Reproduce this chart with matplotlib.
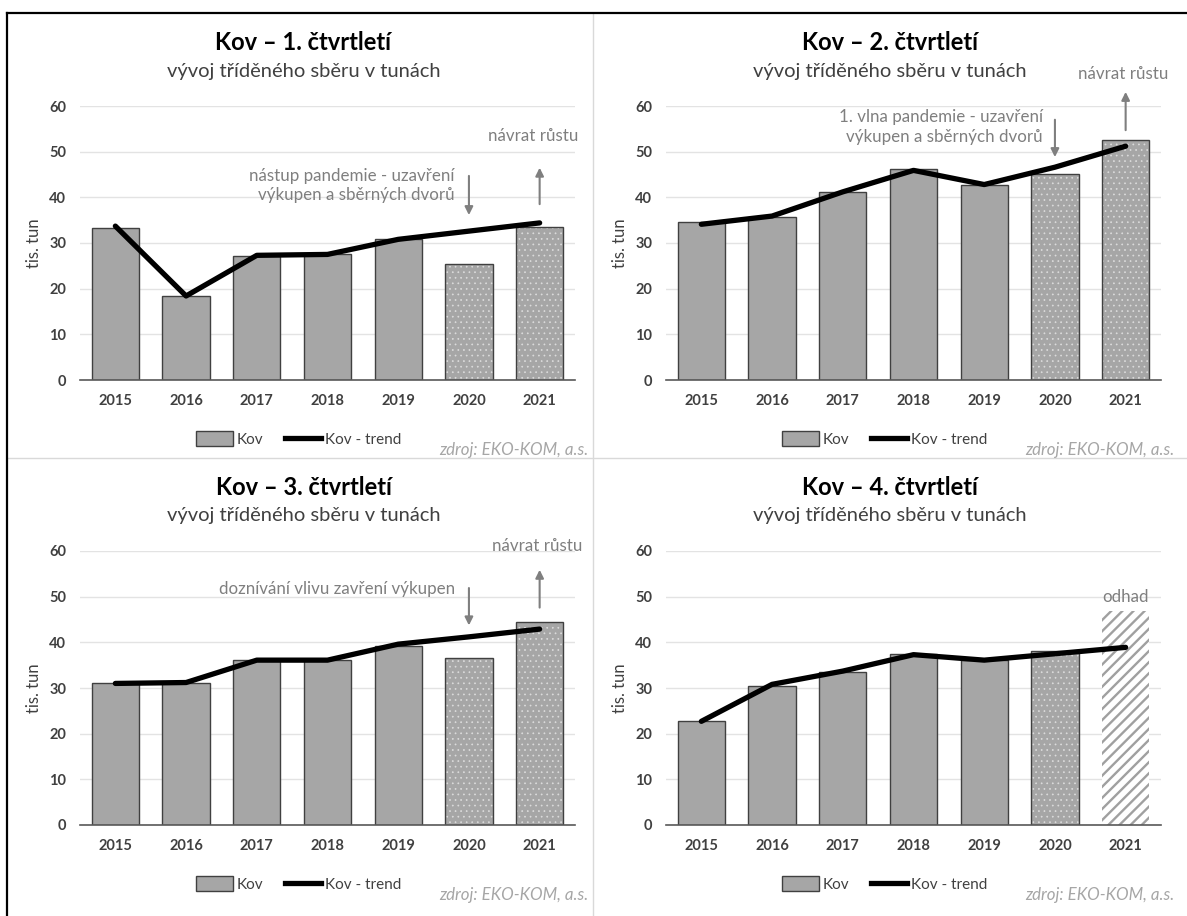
import matplotlib.pyplot as plt
from matplotlib.lines import Line2D
from matplotlib.patches import Patch

plt.rcParams['font.family'] = ['Lato', 'DejaVu Sans']

years = ['2015', '2016', '2017', '2018', '2019', '2020', '2021']

q1_kov = [33.3, 18.4, 27.2, 27.7, 30.8, 25.3, 33.5]
q1_trend = [33.7, 18.4, 27.3, 27.5, 30.8, 32.6, 34.4]
q2_kov = [34.5, 35.6, 41.1, 46.1, 42.8, 45.2, 52.5]
q2_trend = [34.1, 35.9, 41.2, 45.9, 42.8, 46.6, 51.2]
q3_kov = [31.1, 31.1, 36.2, 36.2, 39.3, 36.6, 44.5]
q3_trend = [31.0, 31.2, 36.1, 36.1, 39.6, 41.2, 42.9]
q4_kov = [22.7, 30.5, 33.4, 37.4, 36.2, 38.0, 46.9]
q4_trend = [22.7, 30.8, 33.7, 37.3, 36.1, 37.5, 38.9]

# bar fill kind per year: s = solid, d = dotted, h = hatched (estimate)
q123_style = ['s', 's', 's', 's', 's', 'd', 'd']
q4_style = ['s', 's', 's', 's', 's', 'd', 'h']

titles = ['Kov – 1. čtvrtletí', 'Kov – 2. čtvrtletí', 'Kov – 3. čtvrtletí', 'Kov – 4. čtvrtletí']
subtitle = 'vývoj tříděného sběru v tunách'

W, H = 1187, 916
fig = plt.figure(figsize=(W / 100, H / 100), dpi=100)

GRAY = '#a6a6a6'
EDGE = '#404040'
TXT = '#404040'
NOTE = '#7f7f7f'


def px_axes(left, top, right, bottom):
    return fig.add_axes([left / W, 1 - bottom / H, (right - left) / W, (bottom - top) / H])


def panel(ox, oy, title, kov, trend, style):
    ax = px_axes(ox + 73, oy + 93, ox + 568, oy + 367)
    x = list(range(len(years)))
    for i, (v, st) in enumerate(zip(kov, style)):
        if st == 'h':
            with plt.rc_context({'hatch.linewidth': 1.7}):
                ax.bar(i, v, width=0.67, facecolor='white', edgecolor='#a0a0a0',
                       hatch='///', linewidth=0, zorder=2)
        else:
            ax.bar(i, v, width=0.67, color=GRAY, linewidth=0, zorder=2)
            if st == 'd':
                with plt.rc_context({'hatch.linewidth': 0.5}):
                    ax.bar(i, v, width=0.67, facecolor='none', edgecolor='#dcdcdc',
                           hatch='...', linewidth=0, zorder=2)
            ax.bar(i, v, width=0.67, facecolor='none', edgecolor=EDGE, linewidth=1, zorder=2)
    ax.plot(x, trend, color='black', linewidth=3.8, solid_capstyle='round', zorder=3)

    ax.set_ylim(0, 60)
    ax.set_xlim(-0.5, len(years) - 0.5)
    ax.set_yticks(range(0, 61, 10))
    ax.set_xticks(x)
    ax.set_xticklabels(years)
    ax.grid(axis='y', color='#e3e3e3', linewidth=1, zorder=0)
    ax.set_axisbelow(True)
    for s in ['top', 'right', 'left']:
        ax.spines[s].set_visible(False)
    ax.spines['bottom'].set_color('#595959')
    ax.spines['bottom'].set_linewidth(1.2)
    ax.tick_params(length=0, labelsize=10.5, labelcolor=TXT, pad=10)
    for lab in ax.get_xticklabels() + ax.get_yticklabels():
        lab.set_fontweight('bold')
    ax.set_ylabel('tis. tun', fontsize=12, color=TXT, labelpad=5)

    cx = (ox + ox + 593) / 2 / W
    fig.text(cx, 1 - (oy + 29) / H, title, ha='center', va='center',
             fontsize=17, fontweight='bold', color='black')
    fig.text(cx, 1 - (oy + 58) / H, subtitle, ha='center', va='center',
             fontsize=14.5, color=TXT)

    handles = [Patch(facecolor=GRAY, edgecolor=EDGE, linewidth=1),
               Line2D([0], [0], color='black', linewidth=3.8)]
    ax.legend(handles, ['Kov', 'Kov - trend'], loc='center', ncol=2, frameon=False,
              bbox_to_anchor=((ox + 292) / W, 1 - (oy + 426) / H),
              bbox_transform=fig.transFigure, fontsize=11, handlelength=2.4,
              handleheight=1.1, handletextpad=0.25, columnspacing=1.4, labelcolor=TXT)
    fig.text((ox + 581) / W, 1 - (oy + 437) / H, 'zdroj: EKO-KOM, a.s.', ha='right',
             va='center', fontsize=12.2, style='italic', color='#a6a6a6')
    return ax


def arrow(ax, xi, y0, y1):
    ax.annotate('', xy=(xi, y1), xytext=(xi, y0), annotation_clip=False,
                arrowprops=dict(arrowstyle='-|>', color=NOTE, lw=1.5, mutation_scale=12))


def note(ax, xi, y, s, ha='right'):
    ax.text(xi, y, s, ha=ha, va='center', fontsize=12.2, color=NOTE,
            linespacing=1.3, clip_on=False)


ax1 = panel(7, 13, titles[0], q1_kov, q1_trend, q123_style)
note(ax1, 4.8, 42.6, 'nástup pandemie - uzavření\nvýkupen a sběrných dvorů')
arrow(ax1, 5, 45.3, 35.5)
arrow(ax1, 6, 37.9, 47.1)
note(ax1, 6.55, 53.4, 'návrat růstu')

ax2 = panel(593, 13, titles[1], q2_kov, q2_trend, q123_style)
note(ax2, 4.83, 55.4, '1. vlna pandemie - uzavření\nvýkupen a sběrných dvorů')
arrow(ax2, 5, 57.6, 48.2)
arrow(ax2, 6, 54.1, 63.7)
note(ax2, 6.6, 67.0, 'návrat růstu')

ax3 = panel(7, 458, titles[2], q3_kov, q3_trend, q123_style)
note(ax3, 4.8, 51.7, 'doznívání vlivu zavření výkupen')
arrow(ax3, 5, 52.5, 43.1)
arrow(ax3, 6, 47.0, 56.5)
note(ax3, 6.6, 61.2, 'návrat růstu')

ax4 = panel(593, 458, titles[3], q4_kov, q4_trend, q4_style)
note(ax4, 6, 50.0, 'odhad', ha='center')

# panel separators and outer frame
fig.add_artist(Line2D([593 / W, 593 / W], [0, 1 - 13 / H], color='#d9d9d9', lw=1))
fig.add_artist(Line2D([7 / W, 1], [1 - 458 / H, 1 - 458 / H], color='#d9d9d9', lw=1))
fig.add_artist(Line2D([7 / W, 1], [1 - 13 / H, 1 - 13 / H], color='black', lw=1.6))
fig.add_artist(Line2D([7 / W, 7 / W], [0, 1 - 13 / H], color='black', lw=1.6))

fig.savefig('out.png', dpi=100, facecolor='white')
